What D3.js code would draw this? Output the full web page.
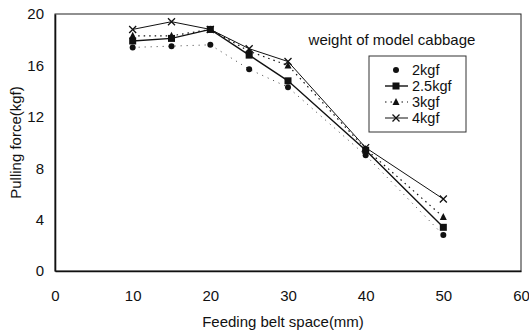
<!DOCTYPE html>
<html>
<head>
<meta charset="utf-8">
<script src="https://cdn.jsdelivr.net/npm/d3@7"></script>
<style>
  body { margin: 0; background: #fff; }
  text { font-family: "Liberation Sans", Arial, sans-serif; fill: #111; }
</style>
</head>
<body>
<div id="chart"></div>
<script>
var svgWidth = 529;
var svgHeight = 331;

var margin = { top: 14, right: 8, bottom: 60, left: 55 };
var width = svgWidth - margin.left - margin.right;
var height = svgHeight - margin.top - margin.bottom;

// data
var spaces = [10, 15, 20, 25, 30, 40, 50];
var force2 = [17.4, 17.5, 17.6, 15.7, 14.3, 9.0, 2.8];
var force25 = [17.9, 18.1, 18.8, 16.8, 14.8, 9.4, 3.4];
var force3 = [18.3, 18.3, 18.8, 17.1, 16.0, 9.5, 4.2];
var force4 = [18.8, 19.4, 18.8, 17.3, 16.3, 9.6, 5.6];
var seriesNames = ["2kgf", "2.5kgf", "3kgf", "4kgf"];
var xTicks = [0, 10, 20, 30, 40, 50, 60];
var yTicks = [0, 4, 8, 12, 16, 20];

var series = [
  { name: seriesNames[0], values: force2, marker: "dot", dash: "1,5", width: 0.8 },
  { name: seriesNames[1], values: force25, marker: "square", dash: null, width: 1.4 },
  { name: seriesNames[2], values: force3, marker: "triangle", dash: "1.5,4", width: 1.2 },
  { name: seriesNames[3], values: force4, marker: "cross", dash: null, width: 1 }
];

var svg = d3.select("#chart")
  .append("svg")
  .attr("width", svgWidth)
  .attr("height", svgHeight);

var chartGroup = svg.append("g")
  .attr("transform", `translate(${margin.left},${margin.top})`);

var xScale = d3.scaleLinear().domain([0, 60]).range([0, width]);
var yScale = d3.scaleLinear().domain([0, 20]).range([height, 0]);

// frame
chartGroup.append("rect")
  .attr("x", 0).attr("y", 0)
  .attr("width", width).attr("height", height)
  .attr("fill", "none")
  .attr("stroke", "#222")
  .attr("stroke-width", 1);

// axes without tick marks
var xAxis = d3.axisBottom(xScale).tickValues(xTicks).tickSize(0).tickPadding(19);
var yAxis = d3.axisLeft(yScale).tickValues(yTicks).tickSize(0).tickPadding(11);

var gx = chartGroup.append("g")
  .attr("transform", `translate(0,${height})`)
  .call(xAxis);
var gy = chartGroup.append("g").call(yAxis);

[gx, gy].forEach(function(g) {
  g.select(".domain").attr("stroke", "#111").attr("stroke-width", 1.6);
  g.selectAll("text").style("font-size", "15px").attr("fill", "#111");
});

chartGroup.append("text")
  .attr("x", 228)
  .attr("y", height + 56)
  .attr("text-anchor", "middle")
  .style("font-size", "15px")
  .text("Feeding belt space(mm)");

chartGroup.append("text")
  .attr("transform", "rotate(-90)")
  .attr("x", -height / 2)
  .attr("y", -34)
  .attr("text-anchor", "middle")
  .style("font-size", "15px")
  .text("Pulling force(kgf)");

var line = d3.line()
  .x(function(d, i) { return xScale(spaces[i]); })
  .y(function(d) { return yScale(d); });

function drawMarker(g, type, cx, cy) {
  if (type === "dot") {
    g.append("circle").attr("cx", cx).attr("cy", cy).attr("r", 3).attr("fill", "#111");
  } else if (type === "square") {
    g.append("rect").attr("x", cx - 3.5).attr("y", cy - 3.5)
      .attr("width", 7).attr("height", 7).attr("fill", "#111");
  } else if (type === "triangle") {
    g.append("path")
      .attr("d", `M${cx},${cy - 4}L${cx + 3.5},${cy + 3}L${cx - 3.5},${cy + 3}Z`)
      .attr("fill", "#111");
  } else {
    g.append("path")
      .attr("d", `M${cx - 3.5},${cy - 3.5}L${cx + 3.5},${cy + 3.5}M${cx - 3.5},${cy + 3.5}L${cx + 3.5},${cy - 3.5}`)
      .attr("stroke", "#111").attr("stroke-width", 1.3);
  }
}

series.forEach(function(s) {
  chartGroup.append("path")
    .datum(s.values)
    .attr("d", line)
    .attr("fill", "none")
    .attr("stroke", "#111")
    .attr("stroke-width", s.width)
    .attr("stroke-dasharray", s.dash);
  var mg = chartGroup.append("g");
  s.values.forEach(function(v, i) {
    drawMarker(mg, s.marker, xScale(spaces[i]), yScale(v));
  });
});

// legend
chartGroup.append("text")
  .attr("x", 337)
  .attr("y", 31)
  .attr("text-anchor", "middle")
  .style("font-size", "15px")
  .text("weight of model cabbage");

var legend = chartGroup.append("g").attr("transform", "translate(314,42)");
legend.append("rect")
  .attr("x", 0).attr("y", 0)
  .attr("width", 97).attr("height", 76)
  .attr("fill", "#fff")
  .attr("stroke", "#333")
  .attr("stroke-width", 1);

series.forEach(function(s, i) {
  var yy = 14 + i * 16;
  if (s.marker !== "dot") {
    legend.append("line")
      .attr("x1", 16).attr("x2", 39)
      .attr("y1", yy).attr("y2", yy)
      .attr("stroke", "#111")
      .attr("stroke-width", s.width)
      .attr("stroke-dasharray", s.dash);
  }
  drawMarker(legend, s.marker, 27, yy);
  legend.append("text")
    .attr("x", 43)
    .attr("y", yy + 5)
    .style("font-size", "14.5px")
    .text(s.name);
});
</script>
</body>
</html>
